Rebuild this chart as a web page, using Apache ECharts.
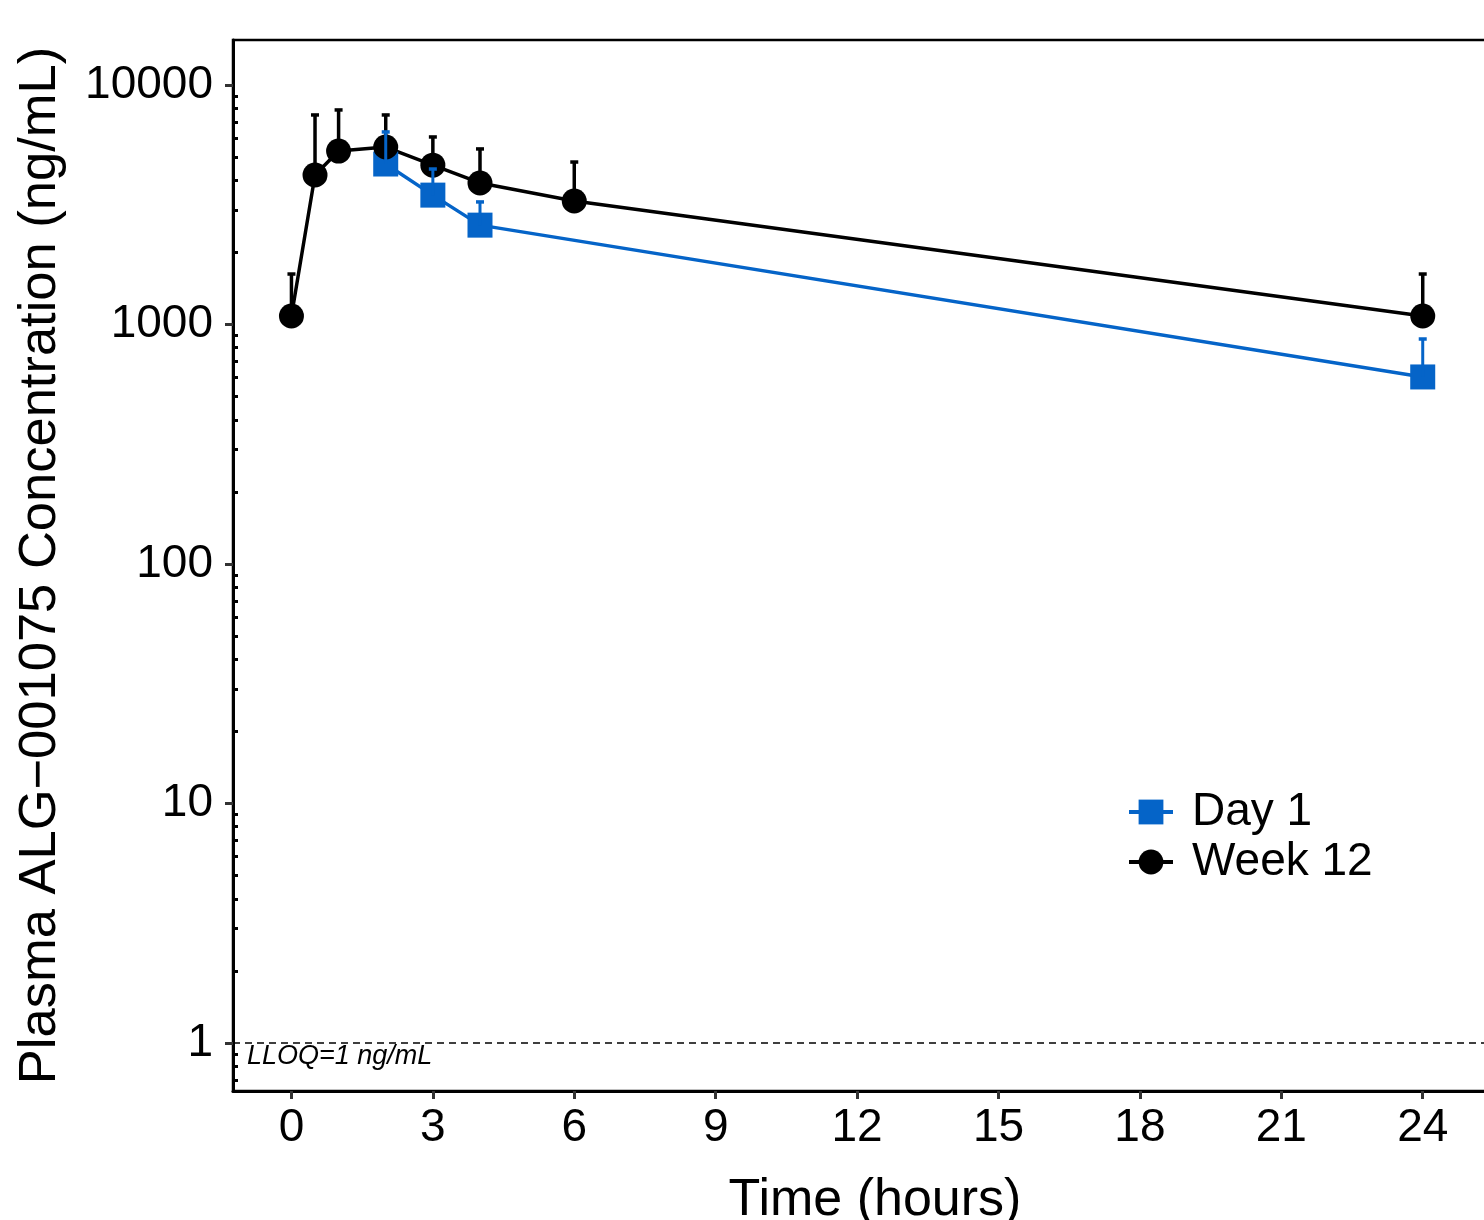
<!DOCTYPE html>
<html>
<head>
<meta charset="utf-8">
<script src="https://cdn.jsdelivr.net/npm/echarts@6/dist/echarts.min.js"></script>
<style>
  html, body { margin: 0; padding: 0; background: #fff; overflow: hidden; }
  #chart { width: 1484px; height: 1220px; }
</style>
</head>
<body>
<div id="chart"></div>
<script>
// time points (hours)
const week12Times = [0, 0.5, 1, 2, 3, 4, 6, 24];
const week12Mean = [1085, 4210, 5300, 5510, 4630, 3900, 3280, 1085];
const week12Upper = [1625, 7500, 7870, 7500, 6070, 5410, 4770, 1625];

const day1Times = [2, 3, 4, 24];
const day1Mean = [4680, 3470, 2600, 604];
const day1Upper = [6370, 4460, 3250, 870];

const xTicks = [0, 3, 6, 9, 12, 15, 18, 21, 24];
const yTicks = [1, 10, 100, 1000, 10000];
const yMinorTicks = [0.7, 0.8, 0.9, 2, 3, 4, 5, 6, 7, 8, 9, 20, 30, 40, 50, 60, 70, 80, 90,
  200, 300, 400, 500, 600, 700, 800, 900, 2000, 3000, 4000, 5000, 6000, 7000, 8000, 9000];

const BLUE = '#0564C8';
const FONT = '"Liberation Sans", Arial, sans-serif';

const chart = echarts.init(document.getElementById('chart'));

function pairs(xs, ys) {
  return xs.map((x, i) => [x, ys[i]]);
}
function errData(xs, mean, upper) {
  return xs.map((x, i) => [x, mean[i], upper[i]]);
}

// upper-only error bar with a small cap
function errRenderer(color, width) {
  return function (params, api) {
    const p0 = api.coord([api.value(0), api.value(1)]);
    const p1 = api.coord([api.value(0), api.value(2)]);
    return {
      type: 'group',
      children: [
        { type: 'line', shape: { x1: p0[0], y1: p0[1], x2: p1[0], y2: p1[1] },
          style: { stroke: color, lineWidth: width } },
        { type: 'line', shape: { x1: p1[0] - 4, y1: p1[1], x2: p1[0] + 4, y2: p1[1] },
          style: { stroke: color, lineWidth: 3.5 } }
      ]
    };
  };
}

const option = {
  backgroundColor: '#fff',
  animation: false,
  textStyle: { fontFamily: FONT },
  grid: {
    left: 233, top: 40, width: 1284, bottom: 129,
    containLabel: false,
    outerBoundsMode: 'none',
    show: true, borderColor: '#000', borderWidth: 2.5, backgroundColor: 'transparent'
  },
  legend: {
    data: ['Day 1', 'Week 12'],
    orient: 'vertical',
    left: 1122, top: 784,
    itemWidth: 44, itemHeight: 31, itemGap: 4,
    lineStyle: { width: 4 },
    textStyle: { fontSize: 46, color: '#000', fontFamily: FONT, padding: [0, 0, 0, 14] }
  },
  xAxis: {
    type: 'value',
    min: -1.24, max: 26,
    name: 'Time (hours)',
    nameLocation: 'middle',
    nameGap: 84,
    nameTextStyle: { fontSize: 52, color: '#000', fontFamily: FONT },
    axisLine: { show: true, onZero: false, lineStyle: { color: '#000', width: 3 } },
    axisTick: { show: true, length: 8, customValues: xTicks, lineStyle: { color: '#333', width: 3 } },
    axisLabel: { customValues: xTicks, fontSize: 46, color: '#000', margin: 14, fontFamily: FONT },
    splitLine: { show: false }
  },
  yAxis: [{
    type: 'log',
    logBase: 10,
    min: 0.63, max: 15420,
    name: 'Plasma ALG\u2212001075 Concentration (ng/mL)',
    nameLocation: 'middle',
    nameGap: 166,
    nameTextStyle: { fontSize: 52.5, color: '#000', fontFamily: FONT },
    axisLine: { show: true, onZero: false, lineStyle: { color: '#000', width: 3 } },
    axisTick: { show: true, length: 8, customValues: yTicks, lineStyle: { color: '#333', width: 3 } },
    axisLabel: {
      customValues: yTicks, fontSize: 46, color: '#000', margin: 20, fontFamily: FONT,
      formatter: v => String(v)
    },
    splitLine: { show: false },
    minorTick: { show: false }
  }, {
    // inward minor ticks between decades
    type: 'log',
    logBase: 10,
    min: 0.63, max: 15420,
    position: 'left',
    axisLine: { show: false, onZero: false },
    axisTick: { show: true, inside: true, length: 5, customValues: yMinorTicks, lineStyle: { color: '#000', width: 3 } },
    axisLabel: { show: false, customValues: yMinorTicks },
    splitLine: { show: false }
  }],
  series: [
    {
      name: 'Day 1',
      type: 'line',
      data: pairs(day1Times, day1Mean),
      symbol: 'rect',
      symbolSize: 25,
      itemStyle: { color: BLUE },
      lineStyle: { color: BLUE, width: 3.5 },
      z: 2
    },
    {
      name: 'Week 12',
      type: 'line',
      data: pairs(week12Times, week12Mean),
      symbol: 'circle',
      symbolSize: 25,
      itemStyle: { color: '#000' },
      lineStyle: { color: '#000', width: 3.5 },
      z: 2,
      markLine: {
        silent: true,
        symbol: 'none',
        lineStyle: { color: '#000', type: [7, 5], width: 1.5 },
        label: {
          show: true,
          position: 'insideStartBottom',
          distance: [14, 0],
          formatter: 'LLOQ=1 ng/mL',
          fontStyle: 'italic',
          fontSize: 27,
          color: '#000',
          fontFamily: FONT
        },
        data: [{ yAxis: 1 }]
      }
    },
    {
      name: 'Week 12 SD',
      type: 'custom',
      data: errData(week12Times, week12Mean, week12Upper),
      encode: { x: 0, y: [1, 2] },
      renderItem: errRenderer('#000', 3.5),
      z: 3
    },
    {
      name: 'Day 1 SD',
      type: 'custom',
      data: errData(day1Times, day1Mean, day1Upper),
      encode: { x: 0, y: [1, 2] },
      renderItem: errRenderer(BLUE, 3),
      z: 3
    }
  ]
};

chart.setOption(option);
</script>
</body>
</html>
